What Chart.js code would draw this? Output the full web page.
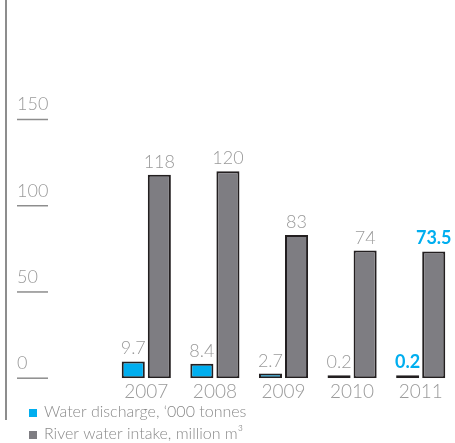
<!DOCTYPE html>
<html>
<head>
<meta charset="utf-8">
<script src="https://cdn.jsdelivr.net/npm/chart.js@4"></script>
<style>
  body { margin: 0; background: #fff; }
  canvas { display: block; }
</style>
</head>
<body>
<canvas id="myChart" width="455" height="443"></canvas>
<script>
const years = ['2007', '2008', '2009', '2010', '2011'];
const discharge = [9.7, 8.4, 2.7, 0.2, 0.2];
const intake = [118, 120, 83, 74, 73.5];
const yTicks = [0, 50, 100, 150];
const seriesNames = ['Water discharge, \u2018000 tonnes', 'River water intake, million m\u00b3'];
const highlightIndex = 4; // 2011 values are shown in blue

const blue = '#00aeef';
const grey = '#7e7d82';
const textGrey = '#9a9a9a';

const decor = {
    id: 'decor',
    afterDraw(chart) {
        const ctx = chart.ctx;
        const yScale = chart.scales.y;
        ctx.save();

        // left rule
        ctx.strokeStyle = '#8d8d8d';
        ctx.lineWidth = 2;
        ctx.beginPath();
        ctx.moveTo(6, 0);
        ctx.lineTo(6, 420);
        ctx.stroke();

        // y ticks with little underlines
        ctx.font = '300 18px Lato';
        ctx.fillStyle = textGrey;
        ctx.textAlign = 'left';
        ctx.textBaseline = 'alphabetic';
        yTicks.forEach(v => {
            const py = yScale.getPixelForValue(v);
            ctx.fillText(String(v), 17, py - 9);
            ctx.lineWidth = 1.5;
            ctx.beginPath();
            ctx.moveTo(17, py);
            ctx.lineTo(48, py);
            ctx.stroke();
        });

        // value labels
        ctx.textAlign = 'center';
        chart.data.datasets.forEach((ds, di) => {
            const meta = chart.getDatasetMeta(di);
            meta.data.forEach((bar, i) => {
                const hl = i === highlightIndex;
                ctx.font = hl ? 'bold 18px Lato' : '300 18px Lato';
                ctx.fillStyle = hl ? blue : textGrey;
                ctx.fillText(String(ds.data[i]), bar.x, bar.y - 7);
            });
        });

        // legend
        ctx.textAlign = 'left';
        ctx.font = '300 16px Lato';
        chart.data.datasets.forEach((ds, di) => {
            const top = 409 + di * 22;
            ctx.fillStyle = ds.backgroundColor;
            ctx.fillRect(29, top, 8, 8);
            ctx.fillStyle = '#8a8a8a';
            ctx.fillText(ds.label, 44, top + 8);
        });
        ctx.restore();
    }
};

const config = {
    type: 'bar',
    data: {
        labels: years,
        datasets: [{
            label: seriesNames[0],
            data: discharge,
            backgroundColor: blue,
            borderColor: '#231f20',
            borderWidth: 2,
            borderSkipped: false,
            minBarLength: 3
        }, {
            label: seriesNames[1],
            data: intake,
            backgroundColor: grey,
            borderColor: '#231f20',
            borderWidth: 2,
            borderSkipped: false
        }]
    },
    options: {
        responsive: false,
        animation: false,
        layout: {
            padding: { left: 112, right: 0, top: 85, bottom: 38 }
        },
        datasets: {
            bar: {
                categoryPercentage: 0.76,
                barPercentage: 0.885
            }
        },
        scales: {
            x: {
                grid: { display: false, drawTicks: false },
                border: { display: false },
                ticks: {
                    color: textGrey,
                    padding: 2,
                    font: { family: 'Lato', size: 19, weight: 300 }
                }
            },
            y: {
                display: false,
                min: 0,
                max: 170
            }
        },
        plugins: {
            legend: { display: false },
            tooltip: { enabled: false }
        }
    },
    plugins: [decor]
};

function buildChart() {
    const ctx = document.getElementById('myChart').getContext('2d');
    return new Chart(ctx, config);
}

window.addEventListener('load', () => {
    buildChart();
});
</script>
</body>
</html>
